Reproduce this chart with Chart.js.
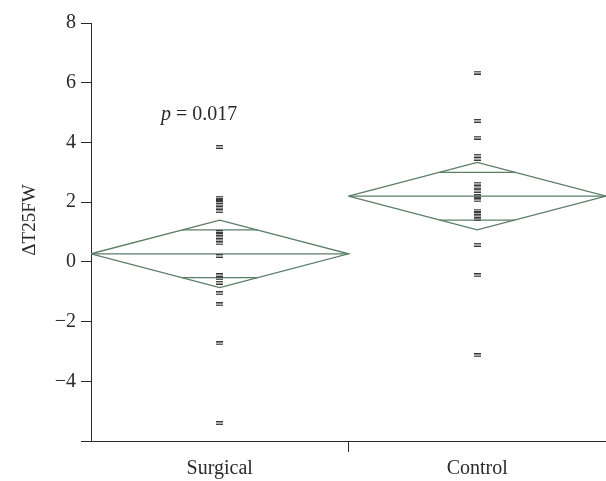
<!DOCTYPE html>
<html>
<head>
<meta charset="utf-8">
<script src="https://cdn.jsdelivr.net/npm/chart.js@4/dist/chart.umd.min.js"></script>
<style>
  html, body { margin: 0; padding: 0; background: #fff; overflow: hidden; }
  canvas { display: block; }
</style>
</head>
<body>
<canvas id="chart" width="606" height="481"></canvas>
<script>
const categories = ["Surgical", "Control"];
const surgical = [3.85, 2.15, 2.08, 2.0, 1.92, 1.82, 1.7, 1.0, 0.92, 0.82, 0.72, 0.62, 0.2,
  -0.45, -0.55, -0.7, -1.05, -1.42, -2.73, -5.4];
const control = [6.34, 4.72, 4.16, 3.55, 3.45, 2.62, 2.5, 2.38, 2.2, 2.06, 1.72, 1.62, 1.52,
  1.42, 0.57, -0.45, -3.13];
const means = [0.27, 2.2];
const ciHalf = [1.13, 1.13];
const yTicks = [-6, -4, -2, 0, 2, 4, 6, 8];
const pLabel = "0.017";

const green = "#5b7d66";
const ink = "#2a2a2a";
const serif = "'Liberation Serif', 'Times New Roman', serif";

// "=" shaped marker
const mark = document.createElement("canvas");
mark.width = 7;
mark.height = 4;
const mctx = mark.getContext("2d");
mctx.fillStyle = "#3a3a3a";
mctx.fillRect(0, 0, 7, 1.4);
mctx.fillRect(0, 2.6, 7, 1.4);

function diamondSets(i) {
  const m = means[i], h = ciHalf[i];
  const d = h / Math.SQRT2;
  const w = 0.5 * (1 - d / h);
  const line = pts => ({
    data: pts, showLine: true, borderColor: green, borderWidth: 1.3,
    pointRadius: 0, fill: false, tension: 0
  });
  return [
    line([{x: i, y: m}, {x: i + 0.5, y: m + h}, {x: i + 1, y: m}, {x: i + 0.5, y: m - h}, {x: i, y: m}]),
    line([{x: i, y: m}, {x: i + 1, y: m}]),
    line([{x: i + 0.5 - w, y: m + d}, {x: i + 0.5 + w, y: m + d}]),
    line([{x: i + 0.5 - w, y: m - d}, {x: i + 0.5 + w, y: m - d}])
  ];
}

const pointSets = [surgical, control].map((vals, i) => ({
  data: vals.map(v => ({x: i + 0.5, y: v})),
  pointStyle: mark,
  pointRadius: 3,
  showLine: false
}));

const extras = {
  id: "extras",
  afterDraw(chart) {
    const ctx = chart.ctx;
    const xs = chart.scales.x, ys = chart.scales.y;
    ctx.save();
    ctx.fillStyle = ink;
    // y title
    ctx.translate(30, 220);
    ctx.rotate(-Math.PI / 2);
    ctx.font = "19px " + serif;
    ctx.textAlign = "center";
    ctx.textBaseline = "middle";
    ctx.fillText("\u0394T25FW", 0, 0);
    ctx.restore();

    // p value
    ctx.save();
    ctx.fillStyle = ink;
    ctx.textBaseline = "middle";
    const px = xs.getPixelForValue(0.272);
    const py = ys.getPixelForValue(4.92);
    ctx.font = "italic 20px " + serif;
    ctx.fillText("p", px, py);
    const pw = ctx.measureText("p").width;
    ctx.font = "20px " + serif;
    ctx.fillText(" = " + pLabel, px + pw, py);
    ctx.restore();
  }
};

new Chart(document.getElementById("chart"), {
  type: "scatter",
  data: {
    datasets: [...pointSets, ...diamondSets(0), ...diamondSets(1)]
  },
  options: {
    responsive: false,
    animation: false,
    devicePixelRatio: 1,
    layout: { autoPadding: false, padding: { top: 23, right: 0, left: 0, bottom: 0 } },
    plugins: { legend: { display: false }, tooltip: { enabled: false } },
    scales: {
      x: {
        type: "linear",
        min: 0,
        max: 2,
        afterBuildTicks: s => { s.ticks = [{value: 0.5}, {value: 1}, {value: 1.5}]; },
        afterFit: s => { s.height = 40; s.paddingLeft = 0; s.paddingRight = 0; },
        border: { display: true, color: ink, width: 1 },
        grid: {
          drawOnChartArea: false,
          drawTicks: true,
          tickLength: 11,
          color: c => (c.tick && c.tick.value === 1) ? ink : "rgba(0,0,0,0)"
        },
        ticks: {
          autoSkip: false,
          maxRotation: 0,
          padding: 5,
          color: ink,
          font: { family: serif, size: 20 },
          callback: v => v === 0.5 ? categories[0] : (v === 1.5 ? categories[1] : "")
        }
      },
      y: {
        min: -6,
        max: 8,
        afterBuildTicks: s => { s.ticks = yTicks.map(v => ({value: v})); },
        afterFit: s => { s.width = 91; },
        border: { display: true, color: ink, width: 1 },
        grid: { drawOnChartArea: false, drawTicks: true, tickLength: 10, color: ink },
        ticks: {
          padding: 5,
          color: ink,
          font: { family: serif, size: 20 },
          callback: v => v === -6 ? "" : (v < 0 ? "\u2212" + Math.abs(v) : String(v))
        }
      }
    }
  },
  plugins: [extras]
});
</script>
</body>
</html>
